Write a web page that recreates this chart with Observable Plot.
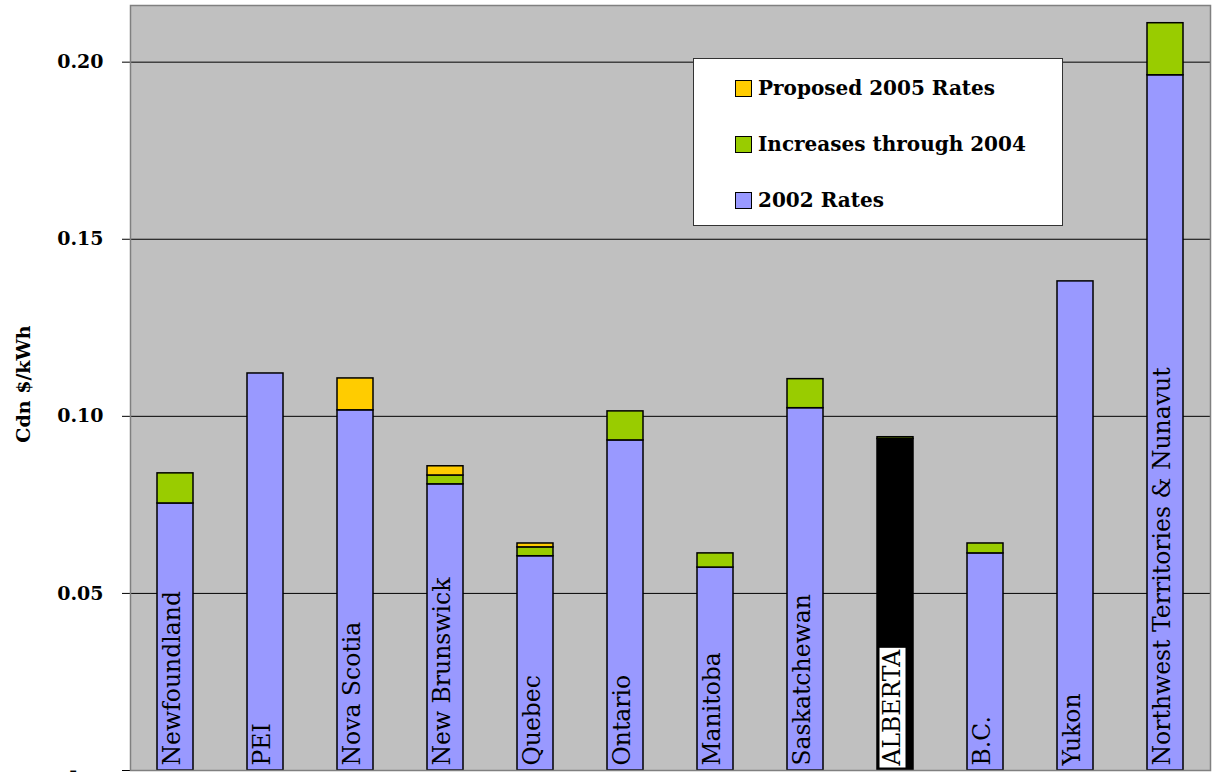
<!DOCTYPE html>
<html><head><meta charset="utf-8">
<script src="https://cdn.jsdelivr.net/npm/d3@7"></script>
<script src="https://cdn.jsdelivr.net/npm/@observablehq/plot@0.6"></script>
<style>
body{margin:0;background:#fff;}
#wrap{position:relative;width:1213px;height:772px;overflow:hidden;}
#legend{position:absolute;left:693px;top:58px;width:370px;height:168px;background:#fff;border:1px solid #333;box-sizing:border-box;font:bold 20px "DejaVu Serif",serif;color:#000;}
.item{position:absolute;left:41px;display:flex;align-items:center;height:24px;white-space:nowrap;}
.sw{width:15px;height:15px;border:1px solid #000;margin-right:6px;}
</style></head><body><div id="wrap"></div>
<script>
const provinces = ["Newfoundland","PEI","Nova Scotia","New Brunswick","Quebec","Ontario","Manitoba","Saskatchewan","ALBERTA","B.C.","Yukon","Northwest Territories & Nunavut"];
const rates2002 = [0.0754, 0.1121, 0.1017, 0.0808, 0.0605, 0.0932, 0.0573, 0.1023, 0.0936, 0.0613, 0.1381, 0.1963];
const increases2004 = [0.0085, 0, 0, 0.0025, 0.0025, 0.0082, 0.0040, 0.0082, 0.0005, 0.0028, 0, 0.0147];
const proposed2005 = [0, 0, 0.0090, 0.0026, 0.0011, 0, 0, 0, 0, 0, 0, 0];
const seriesNames = ["2002 Rates", "Increases through 2004", "Proposed 2005 Rates"];
const seriesColors = ["#9999FF", "#99CC00", "#FFCC00"];
const legendOrder = [2, 1, 0];
const highlight = "ALBERTA";
const highlightColor = "#000000";
const yTicks = [0, 0.05, 0.10, 0.15, 0.20];
const gridTicks = [0.05, 0.10, 0.15, 0.20];
const yLabel = "Cdn $/kWh";

const rows = [];
provinces.forEach((p, i) => {
  [rates2002[i], increases2004[i], proposed2005[i]].forEach((v, s) => {
    if (v > 0) rows.push({province: p, series: seriesNames[s], value: v,
      fill: (p === highlight && s === 0) ? highlightColor : seriesColors[s]});
  });
});

// accounting-style format: zero shown as a dash
const fmt = d => d === 0 ? "-\u2007\u2007" : d3.format(".2f")(d);

const font = "DejaVu Serif";
const chart = Plot.plot({
  width: 1213, height: 772,
  marginLeft: 130, marginRight: 3, marginTop: 5, marginBottom: 2,
  style: {background: "#fff", fontFamily: font},
  x: {domain: provinces, paddingInner: 0.6, paddingOuter: 0.3, axis: null},
  y: {domain: [0, 0.216], axis: null},
  marks: [
    Plot.frame({fill: "#C0C0C0", stroke: null}),
    Plot.ruleY(gridTicks, {stroke: "#000", strokeWidth: 1}),
    Plot.ruleY([0], {stroke: "#808080", strokeWidth: 1}),
    Plot.barY(rows, {x: "province", y: "value", fill: "fill", stroke: "#000", strokeWidth: 1.5}),
    Plot.text(provinces, {x: d => d, frameAnchor: "bottom", dx: 4, dy: -5, rotate: -90, textAnchor: "start",
      text: d => d, fontSize: 23.5, fontFamily: font, fill: "#000"}),
    Plot.axisY({ticks: yTicks, tickFormat: fmt, tickSize: 8, tickPadding: 19,
      fontSize: 19, fontWeight: "bold", fontFamily: font, stroke: "#000", label: null}),
    Plot.text([yLabel], {frameAnchor: "left", dx: -107, dy: -4, rotate: -90, textAnchor: "middle", text: d => d,
      fontSize: 19, fontWeight: "bold", fontFamily: font, fill: "#000"}),
    Plot.frame({stroke: "#808080", strokeWidth: 1.5})
  ]
});
const wrap = document.getElementById("wrap");
wrap.appendChild(chart);

// white box behind highlighted label
chart.querySelectorAll("text").forEach(t => {
  if (t.textContent === highlight) {
    const b = t.getBBox();
    const r = document.createElementNS("http://www.w3.org/2000/svg", "rect");
    r.setAttribute("x", b.x - 1); r.setAttribute("y", b.y + 2);
    r.setAttribute("width", b.width + 2); r.setAttribute("height", b.height - 2);
    r.setAttribute("fill", "#fff");
    if (t.getAttribute("transform")) r.setAttribute("transform", t.getAttribute("transform"));
    t.parentNode.insertBefore(r, t);
  }
});

const legend = document.createElement("div");
legend.id = "legend";
legendOrder.forEach((s, k) => {
  const it = document.createElement("div");
  it.className = "item";
  it.style.top = (17 + k * 56) + "px";
  const sw = document.createElement("div");
  sw.className = "sw"; sw.style.background = seriesColors[s];
  const tx = document.createElement("span");
  tx.textContent = seriesNames[s];
  it.appendChild(sw); it.appendChild(tx);
  legend.appendChild(it);
});
wrap.appendChild(legend);
</script></body></html>
